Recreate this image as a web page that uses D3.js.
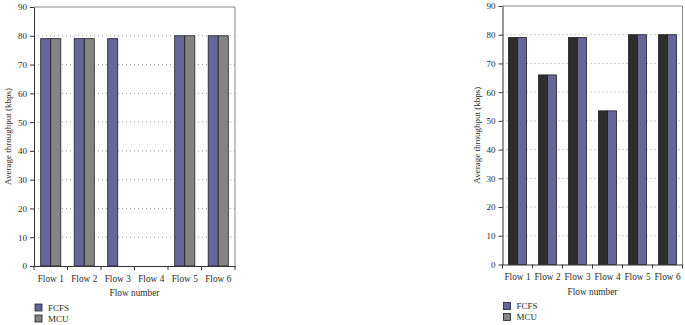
<!DOCTYPE html>
<html>
<head>
<meta charset="utf-8">
<script src="https://cdn.jsdelivr.net/npm/d3@7"></script>
<style>
    body { margin: 0; background: #fff; }
    svg text { font-family: "Liberation Serif", "DejaVu Serif", serif; fill: #2a2a2a; }
</style>
</head>
<body>
<svg id="chart" width="685" height="325"></svg>
<script>
// data
const flows = ['Flow 1', 'Flow 2', 'Flow 3', 'Flow 4', 'Flow 5', 'Flow 6'];
const yTicks = [0, 10, 20, 30, 40, 50, 60, 70, 80, 90];
const leftFcfs = [79, 79, 79, 0, 80, 80];
const leftMcu = [79, 79, 0, 0, 80, 80];
const rightFirst = [79, 66, 79, 53.5, 80, 80];
const rightSecond = [79, 66, 79, 53.5, 80, 80];
const legendNames = ['FCFS', 'MCU'];

const purple = '#67669b';
const grey = '#848484';
const dark = '#2d2d2d';

const svg = d3.select('#chart');

function drawPanel(cfg) {
    const g = svg.append('g');

    const x = d3.scaleBand().domain(flows).range([cfg.left, cfg.right]).padding(0);
    const bw = x.bandwidth();
    const sub = d3.scaleBand().domain([0, 1]).range([bw * 0.2, bw * 0.8]).padding(0);
    const y = d3.scaleLinear().domain([0, 90]).range([cfg.bottom, cfg.top]);

    // gridlines
    g.selectAll('.grid')
        .data(yTicks.filter(d => d > 0 && d < 90))
        .join('line')
        .attr('x1', cfg.left).attr('x2', cfg.right)
        .attr('y1', d => y(d)).attr('y2', d => y(d))
        .attr('stroke', '#999')
        .attr('stroke-width', 1)
        .attr('stroke-dasharray', '1,3');

    // frame top/right
    g.append('path')
        .attr('d', `M${cfg.left},${cfg.top}H${cfg.right}V${cfg.bottom}`)
        .attr('fill', 'none')
        .attr('stroke', '#888')
        .attr('stroke-width', 1);

    // bars
    const rows = [];
    flows.forEach((f, i) => {
        cfg.series.forEach((s, j) => rows.push({flow: f, j: j, v: s[i], color: cfg.colors[j]}));
    });
    g.selectAll('.bar')
        .data(rows.filter(d => d.v > 0))
        .join('rect')
        .attr('x', d => x(d.flow) + sub(d.j))
        .attr('y', d => y(d.v))
        .attr('width', sub.bandwidth())
        .attr('height', d => y(0) - y(d.v))
        .attr('fill', d => d.color)
        .attr('stroke', '#1e1e1e')
        .attr('stroke-width', 0.8);

    // y axis
    const yAxis = d3.axisLeft(y).tickValues(yTicks).tickSize(4).tickSizeOuter(0).tickPadding(3);
    const yg = g.append('g')
        .attr('transform', `translate(${cfg.left},0)`)
        .call(yAxis);
    yg.select('.domain').attr('stroke', '#333');
    yg.selectAll('.tick line').attr('stroke', '#333');
    yg.selectAll('text').style('font-size', '9px').attr('fill', '#2a2a2a');

    // x axis
    const xAxis = d3.axisBottom(x).tickSize(0).tickPadding(9);
    const xg = g.append('g')
        .attr('transform', `translate(0,${cfg.bottom})`)
        .call(xAxis);
    xg.select('.domain').attr('stroke', '#333');
    xg.selectAll('text').style('font-size', '9.3px').attr('fill', '#2a2a2a');
    xg.selectAll('.sep')
        .data(flows.map(f => x(f)).concat([cfg.right]))
        .join('line')
        .attr('x1', d => d).attr('x2', d => d)
        .attr('y1', 0).attr('y2', 4)
        .attr('stroke', '#333');

    // axis titles
    g.append('text')
        .attr('x', (cfg.left + cfg.right) / 2)
        .attr('y', cfg.bottom + 30)
        .attr('text-anchor', 'middle')
        .style('font-size', '9.3px')
        .text('Flow number');

    g.append('text')
        .attr('transform', `translate(${cfg.left - 23},${(cfg.top + cfg.bottom) / 2}) rotate(-90)`)
        .attr('text-anchor', 'middle')
        .style('font-size', '9px')
        .text('Average throughput (kbps)');

    // legend
    const lg = g.selectAll('.leg')
        .data(legendNames)
        .join('g')
        .attr('transform', (d, i) => `translate(${cfg.left + 1},${cfg.bottom + 38 + i * 11})`);
    lg.append('rect')
        .attr('width', 7).attr('height', 7)
        .attr('fill', (d, i) => [purple, grey][i])
        .attr('stroke', '#1e1e1e')
        .attr('stroke-width', 0.8);
    lg.append('text')
        .attr('x', 13).attr('y', 6.5)
        .style('font-size', '9px')
        .text(d => d);
}

drawPanel({left: 34, right: 235, top: 7, bottom: 266,
    series: [leftFcfs, leftMcu], colors: [purple, grey]});
drawPanel({left: 502.5, right: 682.5, top: 6, bottom: 264.5,
    series: [rightFirst, rightSecond], colors: [dark, purple]});
</script>
</body>
</html>
